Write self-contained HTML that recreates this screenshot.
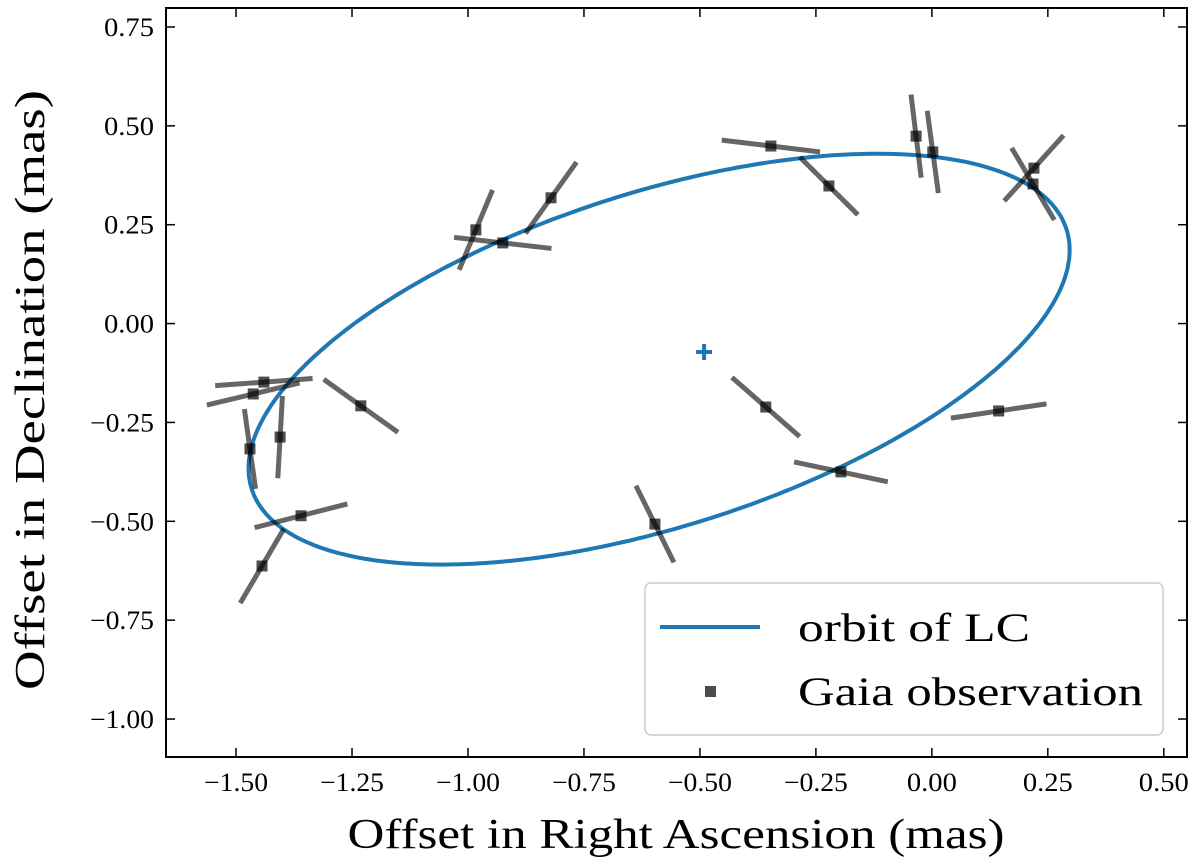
<!DOCTYPE html>
<html><head><meta charset="utf-8"><style>
html,body{margin:0;padding:0;background:#fff;}
svg{display:block;font-family:"Liberation Serif",serif;}
</style></head><body>
<svg id="chart" width="1200" height="868">
<g id="plot"></g>
</svg>
<script>
const xTicks=[-1.5,-1.25,-1.0,-0.75,-0.5,-0.25,0.0,0.25,0.5];
const yTicks=[0.75,0.5,0.25,0.0,-0.25,-0.5,-0.75,-1.0];
const obsX=[-0.347,-0.222,-0.034,0.002,0.220,0.218,-0.983,-0.925,-0.821,-1.440,-1.463,-1.231,-1.470,-1.405,-1.360,-1.444,-0.358,0.144,-0.196,-0.597];
const obsY=[0.449,0.348,0.474,0.434,0.393,0.353,0.237,0.204,0.318,-0.148,-0.178,-0.208,-0.317,-0.287,-0.486,-0.613,-0.211,-0.221,-0.375,-0.507];
const errDX=[0.106,0.0625,0.011,0.012,0.064,0.046,0.036,0.105,0.055,0.105,0.100,0.080,0.012,-0.005,0.100,0.047,0.073,0.103,0.101,0.041];
const errDY=[-0.015,-0.073,-0.105,-0.104,0.083,-0.091,0.101,-0.014,0.090,0.009,0.028,-0.067,-0.101,-0.104,0.030,0.094,-0.075,0.018,-0.025,-0.097];
const orbitCenter=[-0.588,-0.09];
const orbitAxis1=[0.885,0.276];
const orbitAxis2=[0,0.44];
const focusPt=[-0.491,-0.072];

const X0=166,X1=1187,Y0=8,Y1=757;
const xmin=-1.651,xmax=0.55,ymin=-1.096,ymax=0.798;
const sx=v=>X0+(v-xmin)/(xmax-xmin)*(X1-X0);
const sy=v=>Y1-(v-ymin)/(ymax-ymin)*(Y1-Y0);
const NS='http://www.w3.org/2000/svg';
const svg=document.getElementById('chart');
const g=document.getElementById('plot');
function mk(tag,attrs,parent){const e=document.createElementNS(NS,tag);for(const k in attrs)e.setAttribute(k,attrs[k]);(parent||g).appendChild(e);return e;}

let d='';
for(let i=0;i<=360;i++){const t=i*Math.PI/180;
const x=orbitCenter[0]+orbitAxis1[0]*Math.cos(t)+orbitAxis2[0]*Math.sin(t);
const y=orbitCenter[1]+orbitAxis1[1]*Math.cos(t)+orbitAxis2[1]*Math.sin(t);
d+=(i?'L':'M')+sx(x).toFixed(1)+','+sy(y).toFixed(1);}
const orbit=mk('path',{d:d,fill:'none',stroke:'#1f77b4','stroke-width':4});



const fx=sx(focusPt[0]),fy=sy(focusPt[1]);
const plus=mk('path',{d:`M${fx-8},${fy}H${fx+8}M${fx},${fy-8}V${fy+8}`,stroke:'#1f77b4','stroke-width':4});



for(let i=0;i<obsX.length;i++){
const ln=mk('line',{x1:sx(obsX[i]-errDX[i]),y1:sy(obsY[i]-errDY[i]),x2:sx(obsX[i]+errDX[i]),y2:sy(obsY[i]+errDY[i]),stroke:'#000','stroke-opacity':0.6,'stroke-width':5});


}
for(let i=0;i<obsX.length;i++){
const r=mk('rect',{x:sx(obsX[i])-5.5,y:sy(obsY[i])-5.5,width:11,height:11,fill:'#000','fill-opacity':0.7});


}

const fr=mk('rect',{x:X0,y:Y0,width:X1-X0,height:Y1-Y0,fill:'none',stroke:'#000','stroke-width':2},svg);



xTicks.forEach(v=>{const x=sx(v);
mk('line',{x1:x,y1:Y1,x2:x,y2:Y1-9,stroke:'#000','stroke-width':1.5},svg);
mk('line',{x1:x,y1:Y0,x2:x,y2:Y0+9,stroke:'#000','stroke-width':1.5},svg);
const t=mk('text',{x:x,y:Y1+34,'font-size':26,'text-anchor':'middle',textLength:v<0?64:50,lengthAdjust:'spacingAndGlyphs'},svg);
t.textContent=(v<0?'\u2212':'')+Math.abs(v).toFixed(2);


});
yTicks.forEach(v=>{const y=sy(v);
mk('line',{x1:X0,y1:y,x2:X0+9,y2:y,stroke:'#000','stroke-width':1.5},svg);
mk('line',{x1:X1,y1:y,x2:X1-9,y2:y,stroke:'#000','stroke-width':1.5},svg);
const t=mk('text',{x:X0-12,y:y+9,'font-size':26,'text-anchor':'end',textLength:v<0?64:50,lengthAdjust:'spacingAndGlyphs'},svg);
t.textContent=(v<0?'\u2212':'')+Math.abs(v).toFixed(2);


});
</script>
<svg width="1200" height="868" style="position:absolute;left:0;top:0;font-family:'Liberation Serif',serif">
<text x="676" y="848" font-size="42" text-anchor="middle" textLength="657" lengthAdjust="spacingAndGlyphs">Offset in Right Ascension (mas)</text>
<text transform="translate(44,390) rotate(-90)" font-size="42" text-anchor="middle" textLength="600" lengthAdjust="spacingAndGlyphs">Offset in Declination (mas)</text>
<g>
<rect x="645" y="583" width="518" height="152" rx="6" fill="#fff" fill-opacity="0.8" stroke="#ccc" stroke-width="1.5"/>
<line x1="660" y1="627" x2="760" y2="627" stroke="#1f77b4" stroke-width="4"/>
<text x="798" y="641" font-size="40" textLength="232" lengthAdjust="spacingAndGlyphs">orbit of LC</text>
<rect x="705" y="686" width="11" height="11" fill="#000" fill-opacity="0.7"/>
<text x="798" y="705" font-size="40" textLength="345" lengthAdjust="spacingAndGlyphs">Gaia observation</text>
</g>
</svg>
</body></html>
